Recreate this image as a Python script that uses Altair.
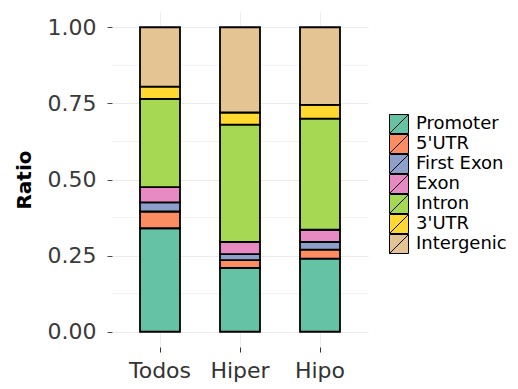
import altair as alt
import pandas as pd

# Genomic region categories, bottom of the stack first
regions = ["Promoter", "5'UTR", "First Exon", "Exon", "Intron", "3'UTR", "Intergenic"]
palette = ["#66C2A5", "#FC8D62", "#8DA0CB", "#E78AC3", "#A6D854", "#FFD92F", "#E5C494"]
groups = ["Todos", "Hiper", "Hipo"]

# Proportion of each region within each group
todos = [0.34, 0.055, 0.03, 0.05, 0.29, 0.04, 0.195]
hiper = [0.21, 0.025, 0.02, 0.04, 0.385, 0.04, 0.28]
hipo = [0.24, 0.03, 0.025, 0.04, 0.365, 0.045, 0.255]

minor_breaks = [0.125, 0.375, 0.625, 0.875]
major_breaks = [0.0, 0.25, 0.5, 0.75, 1.0]

rows = []
for g, vals in zip(groups, [todos, hiper, hipo]):
    for i, (r, v) in enumerate(zip(regions, vals)):
        rows.append({"Grupo": g, "Region": r, "Ratio": v, "idx": i})
df = pd.DataFrame(rows)

FONT = "DejaVu Sans"
y_scale = alt.Scale(domain=[-0.05, 1.05], nice=False, zero=False)
y_axis = alt.Axis(
    title="Ratio", values=major_breaks, format=".2f",
    labelFontSize=22, labelFont=FONT, labelColor="#3a3a3a",
    tickColor="#4d4d4d", tickSize=5, labelPadding=11, domain=False,
    grid=True, gridColor="#ebebeb",
    titleFont=FONT, titleFontSize=20, titleFontWeight="bold",
    titleColor="black", titlePadding=13,
)

minor = alt.Chart(pd.DataFrame({"v": minor_breaks})).mark_rule(
    color="#f3f3f3", strokeWidth=1
).encode(y=alt.Y("v:Q", scale=y_scale, axis=y_axis))

bars = alt.Chart(df).mark_bar(stroke="black", strokeWidth=1.8).encode(
    x=alt.X(
        "Grupo:N",
        sort=groups,
        scale=alt.Scale(paddingInner=0.5, paddingOuter=0.35),
        axis=alt.Axis(
            title=None, labelAngle=0, labelFontSize=22, labelFont=FONT,
            labelColor="#333333", tickColor="#333333", tickSize=5,
            labelPadding=8, domain=False, grid=True, gridColor="#ebebeb",
        ),
    ),
    y=alt.Y("Ratio:Q", stack="zero", scale=y_scale, axis=y_axis),
    fill=alt.Color(
        "Region:N",
        sort=regions,
        scale=alt.Scale(domain=regions, range=palette),
        legend=alt.Legend(
            title=None, orient="none", legendX=277, legendY=102,
            symbolType="M-1,-1H1V1H-1Z M-1,1L1,-1",
            symbolSize=361, symbolStrokeColor="black", symbolStrokeWidth=1,
            symbolOpacity=1, labelFont=FONT, labelFontSize=18,
            labelColor="black", labelOffset=7, rowPadding=0, clipHeight=20,
            padding=0,
        ),
    ),
    order=alt.Order("idx:Q", sort="ascending"),
)

chart = alt.layer(minor, bars).properties(
    width=256,
    height=335,
    autosize=alt.AutoSizeParams(type="none"),
    padding={"left": 112, "top": 12, "right": 150, "bottom": 42},
    view=alt.ViewBackground(strokeWidth=0, stroke="white"),
).configure_view(strokeWidth=0).configure(background="white")

chart.save("out.html", embed_options={"renderer": "svg", "actions": False})
